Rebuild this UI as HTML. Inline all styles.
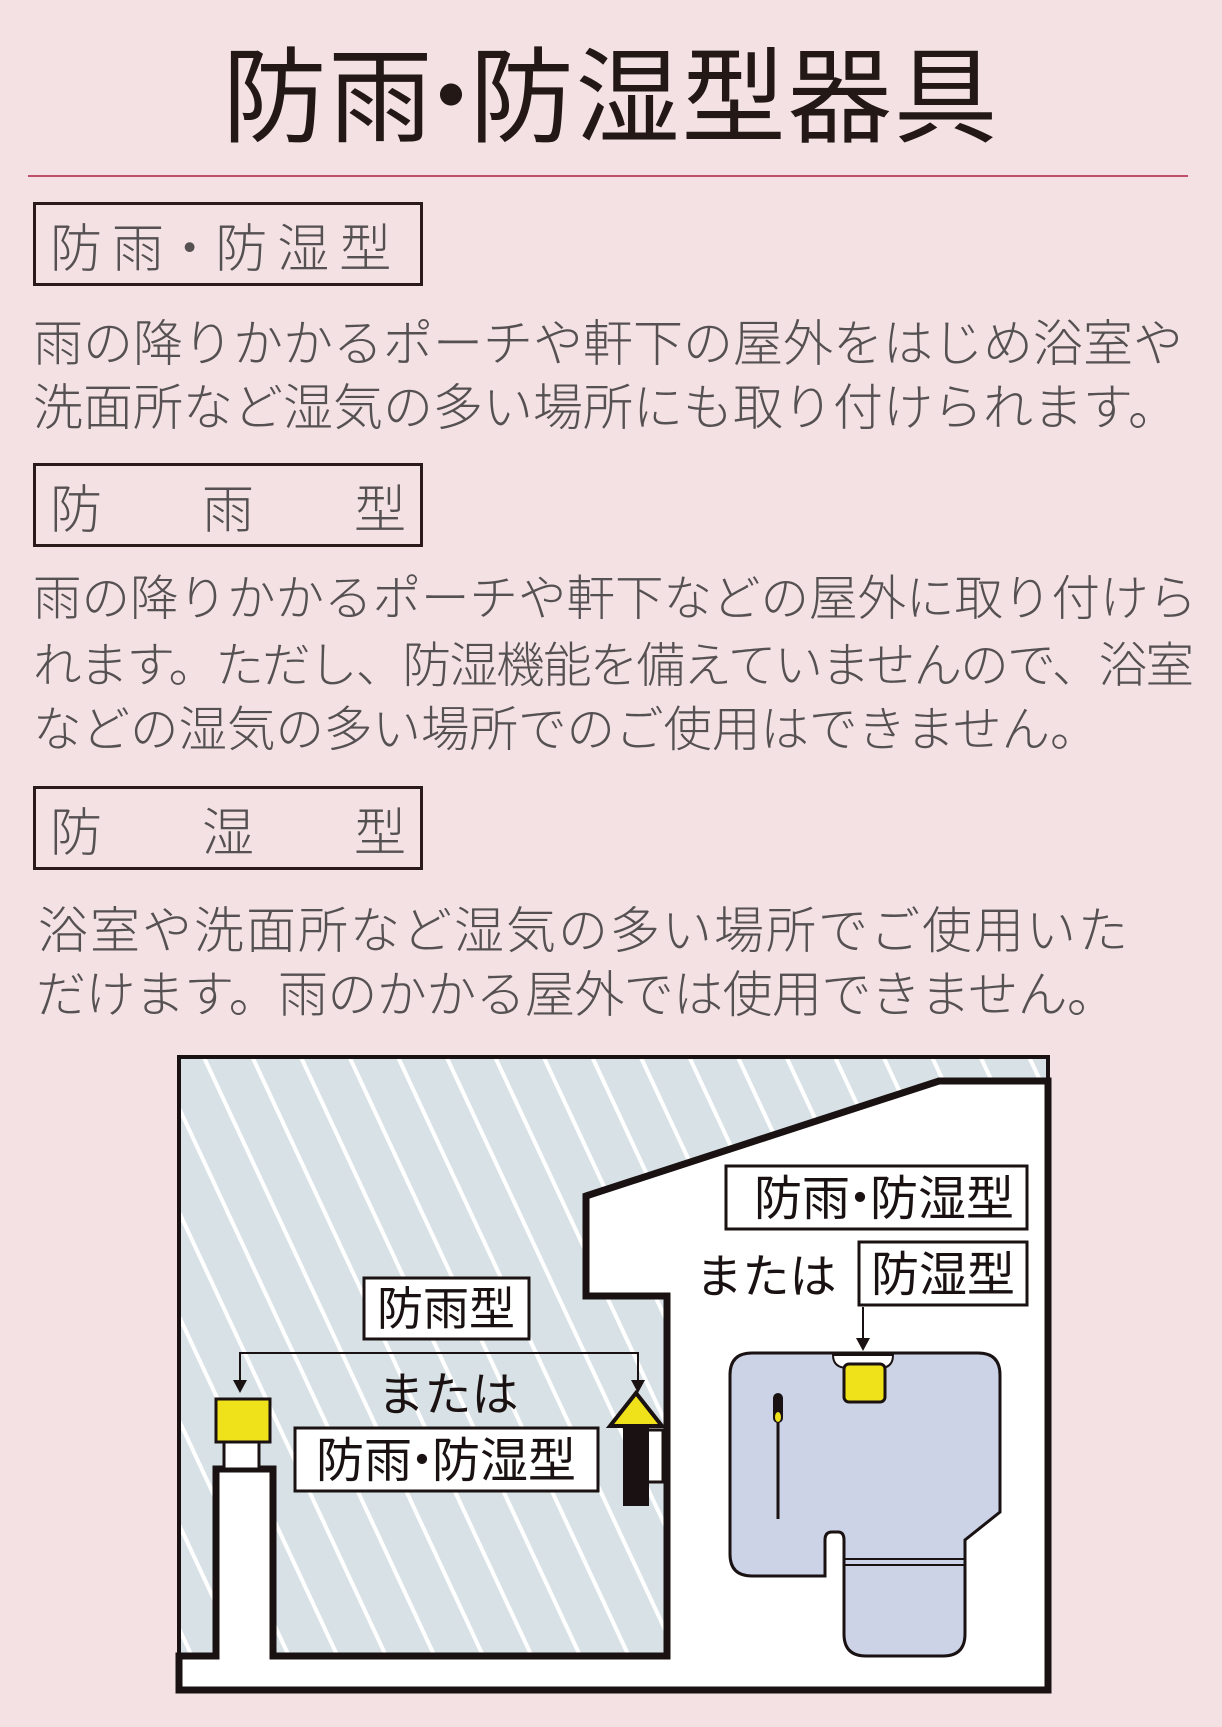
<!DOCTYPE html>
<html><head><meta charset="utf-8">
<style>
html,body{margin:0;padding:0}
body{width:1222px;height:1727px;background:#f3e1e3;position:relative;overflow:hidden;font-family:"Liberation Sans","Noto Sans CJK JP",sans-serif}
.t{position:absolute;white-space:nowrap;line-height:1}
.title{left:0;width:1222px;text-align:center;top:47px;font-size:104px;color:#231815;font-weight:400;letter-spacing:2px}
.d{display:inline-block;margin:0 -0.34em}
.rule{position:absolute;left:28px;width:1160px;top:175px;height:2px;background:#c0506a}
.box{position:absolute;left:33px;width:390px;height:84px;border:3px solid #2a1a1a;box-sizing:border-box;display:flex;justify-content:space-between;align-items:center;padding:0 14px 0 14px;font-size:52px;color:#555052;font-weight:300;white-space:nowrap}
.p{color:#555052;font-weight:300;left:33px;font-size:50px}
</style></head><body>
<div class="t title">防雨<span class="d">・</span>防湿型器具</div>
<div class="rule"></div>

<div class="box" style="top:202px;justify-content:flex-start"><span style="white-space:nowrap;letter-spacing:10px">防雨<span class="d" style="margin:0 -0.2em">・</span>防湿型</span></div>
<div class="t p" style="top:319px">雨の降りかかるポーチや軒下の屋外をはじめ浴室や</div>
<div class="t p" style="top:383px">洗面所など湿気の多い場所にも取り付けられます。</div>

<div class="box" style="top:463px"><span>防</span><span>雨</span><span>型</span></div>
<div class="t p" style="top:575px;font-size:48.5px">雨の降りかかるポーチや軒下などの屋外に取り付けら</div>
<div class="t p" style="top:642px;font-size:48.5px;letter-spacing:-1.7px">れます。ただし、防湿機能を備えていませんので、浴室</div>
<div class="t p" style="top:706px;font-size:48.5px">などの湿気の多い場所でのご使用はできません。</div>

<div class="box" style="top:786px"><span>防</span><span>湿</span><span>型</span></div>
<div class="t p" style="top:906px;left:38px;letter-spacing:2px">浴室や洗面所など湿気の多い場所でご使用いた</div>
<div class="t p" style="top:970px;left:36px;letter-spacing:-0.6px">だけます。雨のかかる屋外では使用できません。</div>

<svg style="position:absolute;left:0;top:0" width="1222" height="1727" viewBox="0 0 1222 1727" font-family="Liberation Sans, Noto Sans CJK JP, sans-serif">
<defs>
<pattern id="h" patternUnits="userSpaceOnUse" width="44" height="44" patternTransform="rotate(-25)">
<rect width="44" height="44" fill="#d8e2e6"/>
<rect x="0" y="0" width="4" height="44" fill="#ffffff"/>
</pattern>
</defs>
<rect x="179" y="1057" width="869" height="633" fill="url(#h)"/>
<path d="M586,1196 L939,1081 L1048,1081 L1048,1690 L179,1690 L179,1656 L216,1656 L216,1469 L273,1469 L273,1656 L667,1656 L667,1296 L586,1296 Z" fill="#fff" stroke="#1a1212" stroke-width="7" stroke-linejoin="miter"/>
<rect x="179" y="1057" width="869" height="633" fill="none" stroke="#1a1212" stroke-width="4"/>

<rect x="224" y="1442" width="35" height="27" fill="#fff" stroke="#1a1212" stroke-width="3"/>
<rect x="216" y="1399" width="54" height="43" fill="#f0e21a" stroke="#1a1212" stroke-width="3"/>
<rect x="647" y="1430" width="16" height="52" fill="#fff" stroke="#1a1212" stroke-width="3"/>
<rect x="623" y="1426" width="26" height="80" fill="#1a1212"/>
<polygon points="636,1393 610,1426 662,1426" fill="#f0e21a" stroke="#1a1212" stroke-width="4" stroke-linejoin="miter"/>

<path d="M240,1390 L240,1353 L638,1353 L638,1390" fill="none" stroke="#1a1212" stroke-width="2"/>
<polygon points="233,1380 247,1380 240,1393" fill="#1a1212"/>
<polygon points="631,1380 645,1380 638,1393" fill="#1a1212"/>

<rect x="364" y="1278" width="165" height="61" fill="#fff" stroke="#1a1212" stroke-width="3"/>
<text x="446" y="1325" font-size="46" text-anchor="middle" fill="#1a1212">防雨型</text>
<text x="448" y="1411" font-size="47" text-anchor="middle" fill="#1a1212">または</text>
<rect x="295" y="1428" width="303" height="63" fill="#fff" stroke="#1a1212" stroke-width="3"/>
<text x="446" y="1477" font-size="48" text-anchor="middle" fill="#1a1212">防雨<tspan dx="-14">・</tspan><tspan dx="-14">防湿型</tspan></text>

<rect x="726" y="1166" width="301" height="63" fill="#fff" stroke="#1a1212" stroke-width="3"/>
<text x="884" y="1215" font-size="48" text-anchor="middle" fill="#1a1212">防雨<tspan dx="-14">・</tspan><tspan dx="-14">防湿型</tspan></text>
<text x="766" y="1293" font-size="47" text-anchor="middle" fill="#1a1212">または</text>
<rect x="859" y="1242" width="168" height="63" fill="#fff" stroke="#1a1212" stroke-width="3"/>
<text x="943" y="1291" font-size="48" text-anchor="middle" fill="#1a1212">防湿型</text>
<line x1="863" y1="1307" x2="863" y2="1340" stroke="#1a1212" stroke-width="2"/>
<polygon points="856,1338 870,1338 863,1351" fill="#1a1212"/>

<path d="M752,1353 L978,1353 Q1000,1353 1000,1375 L1000,1512 L965,1540 L965,1634 Q965,1656 943,1656 L866,1656 Q844,1656 844,1634 L844,1540 Q844,1532 838,1532 L832,1532 Q825,1532 825,1540 L825,1576 L752,1576 Q730,1576 730,1554 L730,1375 Q730,1353 752,1353 Z" fill="#ccd3e6" stroke="#1a1212" stroke-width="3"/>
<line x1="844" y1="1559" x2="965" y2="1559" stroke="#1a1212" stroke-width="2"/>
<line x1="844" y1="1565" x2="965" y2="1565" stroke="#1a1212" stroke-width="2"/>
<path d="M833,1355 Q833,1368 848,1368 L880,1368 Q893,1368 893,1355 Z" fill="#fff" stroke="#1a1212" stroke-width="2"/>
<rect x="844" y="1364" width="41" height="38" rx="5" fill="#f0e21a" stroke="#1a1212" stroke-width="3"/>
<line x1="778" y1="1395" x2="778" y2="1519" stroke="#1a1212" stroke-width="3"/>
<rect x="773" y="1393" width="10" height="30" rx="5" fill="#1a1212"/>
<ellipse cx="778" cy="1417" rx="3" ry="5" fill="#f0e21a"/>
</svg>
</body></html>
